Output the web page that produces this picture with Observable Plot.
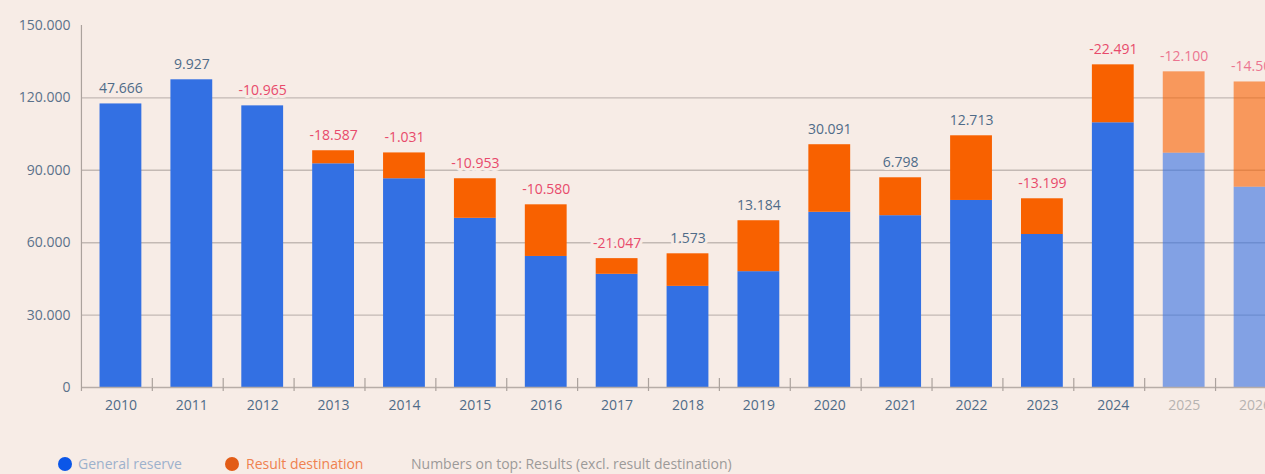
<!DOCTYPE html>
<html>
<head>
<meta charset="utf-8">
<script src="https://cdn.jsdelivr.net/npm/d3@7"></script>
<script src="https://cdn.jsdelivr.net/npm/@observablehq/plot@0.6"></script>
<style>
  html, body { margin: 0; padding: 0; overflow: hidden; background: #f7ece6; width: 1265px; height: 474px; }
  #chart { position: absolute; left: 0; top: 0; width: 1300px; height: 440px; }
  #chart svg { max-width: none !important; }
  .legend { position: absolute; top: 454px; left: 0; height: 20px; font-family: "Open Sans", sans-serif; font-size: 14px; }
  .legend span { position: absolute; top: 0; white-space: nowrap; line-height: 20px; }
  .dot { width: 14px; height: 14px; border-radius: 50%; top: 3px !important; }
</style>
</head>
<body>
<div id="chart"></div>
<div class="legend">
  <span class="dot" style="left:58px;background:#0b56e8"></span>
  <span style="left:78px;color:#9db1cc">General reserve</span>
  <span class="dot" style="left:225px;background:#e25c16"></span>
  <span style="left:246px;color:#ef814f">Result destination</span>
  <span style="left:411px;color:#9c9a99">Numbers on top: Results (excl. result destination)</span>
</div>
<script>
const years = [2010, 2011, 2012, 2013, 2014, 2015, 2016, 2017, 2018, 2019, 2020, 2021, 2022, 2023, 2024, 2025, 2026];
const generalReserve = [117500, 127500, 116700, 92700, 86500, 70100, 54300, 46900, 41900, 48000, 72600, 71200, 77500, 63400, 109700, 97100, 83000];
const resultDestination = [0, 0, 0, 5400, 10700, 16400, 21400, 6500, 13500, 21100, 28000, 15700, 26800, 14800, 24000, 33700, 43600];
const results = [47666, 9927, -10965, -18587, -1031, -10953, -10580, -21047, 1573, 13184, 30091, 6798, 12713, -13199, -22491, -12100, -14500];
const forecastYears = [2025, 2026];
const yTicks = [0, 30000, 60000, 90000, 120000, 150000];
const gridTicks = [30000, 60000, 90000, 120000];

const fmt = d3.formatLocale({decimal: ",", thousands: ".", grouping: [3], currency: ["", ""], minus: "-"}).format(",d");

const rows = years.map((year, i) => ({
  year,
  reserve: generalReserve[i],
  total: generalReserve[i] + resultDestination[i],
  result: results[i],
  forecast: forecastYears.includes(year)
}));
const actual = rows.filter(d => !d.forecast);
const forecast = rows.filter(d => d.forecast);

const BLUE = "#3370e3", ORANGE = "#f86100", BG = "#f7ece6";
const labelFill = d => d.result >= 0 ? "#4f6b88" : (d.forecast ? "#ec7590" : "#e84a6b");

const chart = Plot.plot({
  width: 1300,
  height: 440,
  marginLeft: 81,
  marginRight: 0,
  marginTop: 25,
  marginBottom: 53,
  style: {background: "transparent", fontFamily: "Open Sans, sans-serif", fontSize: "14px", overflow: "visible", maxWidth: "none"},
  x: {type: "band", domain: years, range: [85, 1290], paddingInner: 0.41, paddingOuter: 0.205, round: false, axis: null},
  y: {domain: [0, 150000], axis: null},
  color: {type: "identity"},
  marks: [
    Plot.ruleY(gridTicks, {stroke: "#c3b9b4", strokeWidth: 1.4}),
    Plot.barY(actual, {x: "year", y1: 0, y2: "reserve", fill: BLUE}),
    Plot.barY(actual, {x: "year", y1: "reserve", y2: "total", fill: ORANGE}),
    Plot.barY(forecast, {x: "year", y1: 0, y2: "reserve", fill: BLUE, fillOpacity: 0.6}),
    Plot.barY(forecast, {x: "year", y1: "reserve", y2: "total", fill: ORANGE, fillOpacity: 0.6}),
    Plot.ruleY([0], {stroke: "#b7ada8", strokeWidth: 1.5}),
    Plot.ruleX([years[0]], {x: d => d, dx: -39.5, y1: 150000, y2: 0, insetBottom: -4, stroke: "#aba29d", strokeWidth: 1.2}),
    Plot.ruleX(years.slice(1), {x: d => d, dx: -39.5, y1: 0, y2: 0, insetTop: -9, insetBottom: -4, stroke: "#aba29d", strokeWidth: 1.2}),
    Plot.text(yTicks, {y: d => d, frameAnchor: "left", dx: -11, textAnchor: "end", text: d => fmt(d), fill: "#5b718a", fontSize: 14}),
    Plot.text(rows, {x: "year", y: 0, dy: 18, text: d => String(d.year), fill: d => d.forecast ? "#b6b3b1" : "#4f6b88", fontSize: 14}),
    Plot.text(rows, {x: "year", y: "total", dy: -15, text: d => fmt(d.result), fill: labelFill, stroke: BG, strokeWidth: 6, fontSize: 14})
  ]
});
chart.style.maxWidth = "none";
document.getElementById("chart").appendChild(chart);
</script>
</body>
</html>
